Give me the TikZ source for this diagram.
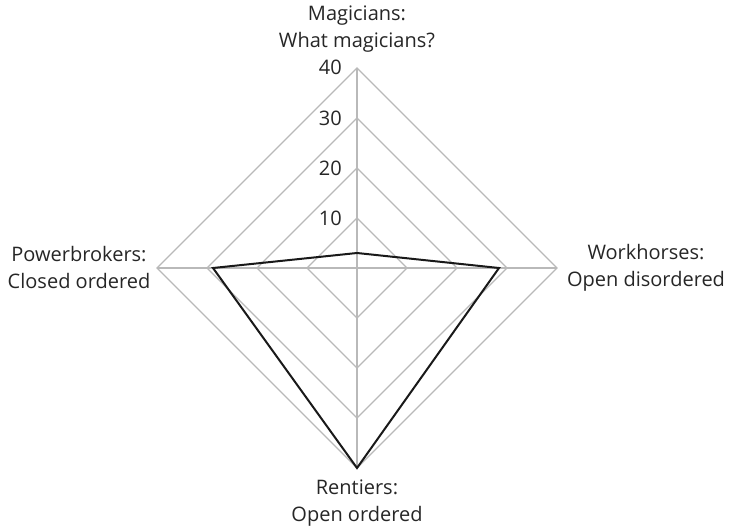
\documentclass[tikz,border=0pt]{standalone}
\usepackage{fontspec}
\setmainfont{Open Sans}
\usetikzlibrary{calc}
\definecolor{gridgray}{RGB}{185,185,185}
\tikzset{
  gridline/.style={draw=gridgray, line width=1.1pt},
  dataline/.style={draw=black!90, line width=2pt, line join=miter},
  axlabel/.style={font=\fontsize{20}{27}\selectfont, align=center, text=black!85, inner sep=0pt},
  ticklabel/.style={font=\fontsize{20}{22}\selectfont, text=black!85, anchor=east, inner sep=0pt}
}
\begin{document}
\begin{tikzpicture}[x=1pt,y=-1pt]
\useasboundingbox (0,0) rectangle (729,529);
\coordinate (C) at (357,268);
% grid diamonds
\foreach \r in {50,100,150,200}{
  \draw[gridline] ($(C)+(0,-\r)$) -- ($(C)+(\r,0)$) -- ($(C)+(0,\r)$) -- ($(C)+(-\r,0)$) -- cycle;
}
\coordinate (T) at (357,68);
\coordinate (B) at (357,468);
\coordinate (L) at (157,268);
\coordinate (R) at (557,268);
\draw[gridline] (T) -- (B);
\draw[gridline] (L) -- (R);
% tick labels
\node[ticklabel] (t10) at (342,218) {10};
\node[ticklabel] (t20) at (342,168) {20};
\node[ticklabel] (t30) at (342,118) {30};
\node[ticklabel] (t40) at (342,67) {40};
% data
\coordinate (dM) at (357,253);
\coordinate (dW) at (499,268);
\coordinate (dR) at (357,468);
\coordinate (dP) at (213,268);
\draw[dataline] (dM) -- (dW) -- (dR) -- (dP) -- cycle;
% axis labels
\node[axlabel] (lM) at (357,29) {Magicians:\\What magicians?};
\node[axlabel] (lW) at (646,268) {Workhorses:\\Open disordered};
\node[axlabel] (lR) at (357,503) {Rentiers:\\Open ordered};
\node[axlabel] (lP) at (79,268) {Powerbrokers:\\Closed ordered};
\end{tikzpicture}
\end{document}
